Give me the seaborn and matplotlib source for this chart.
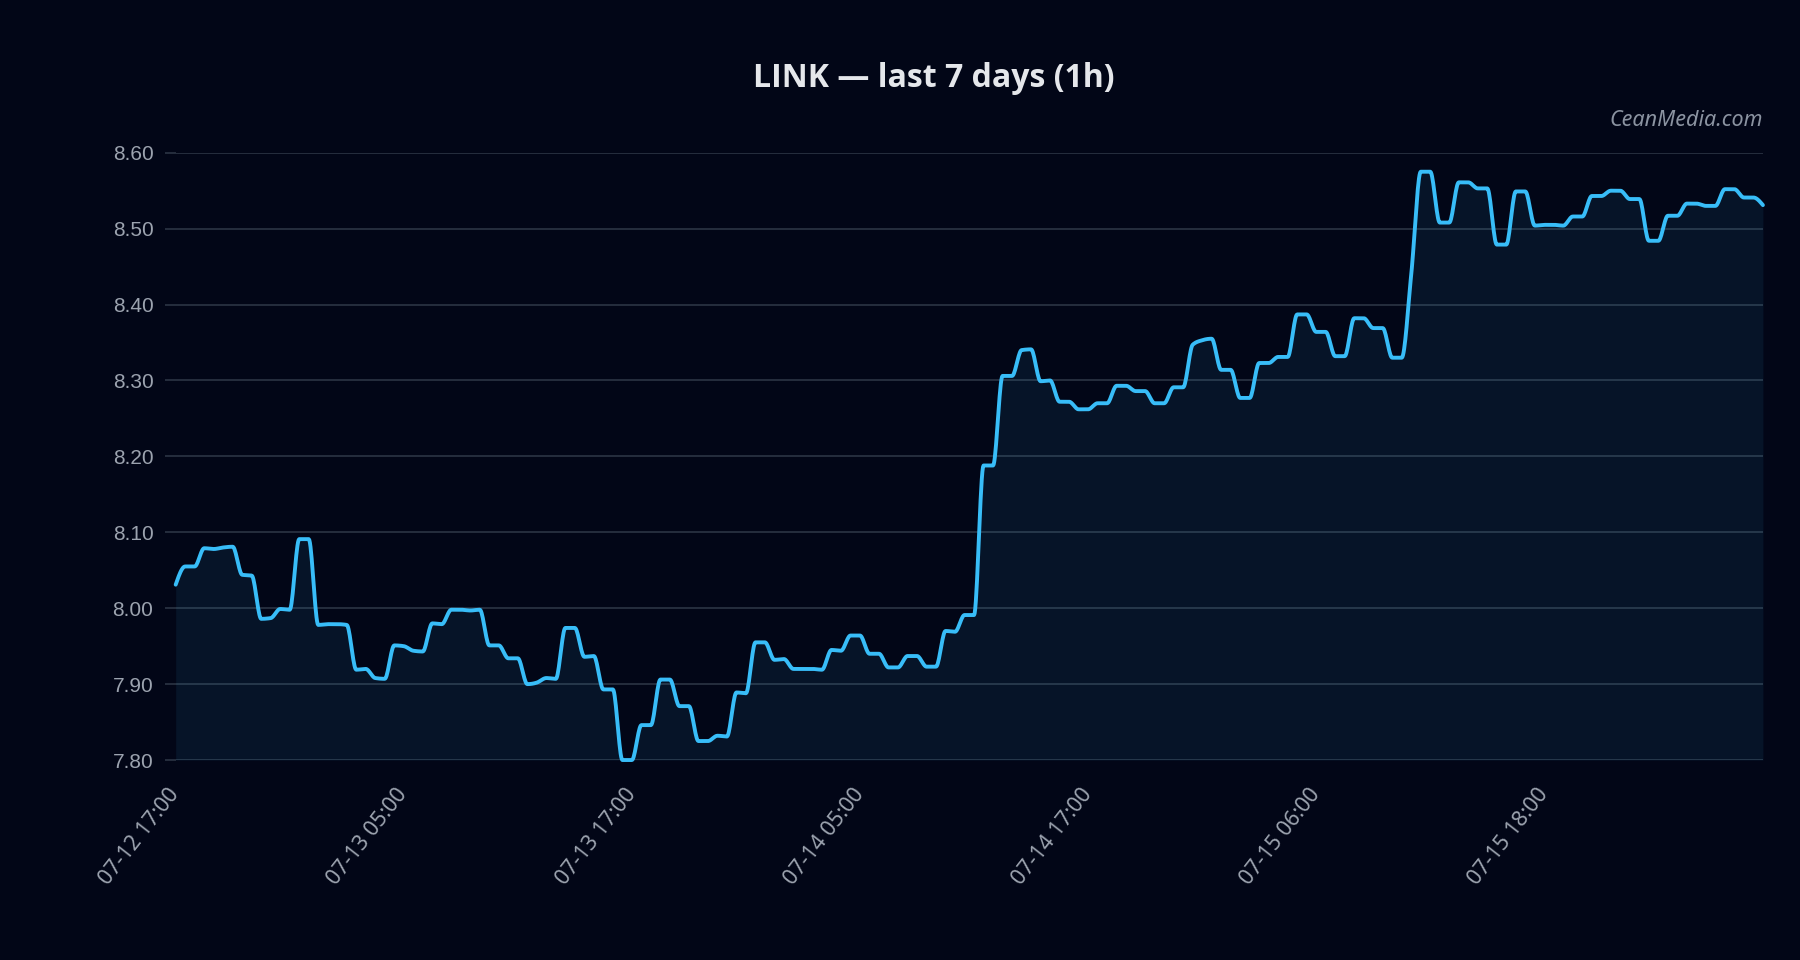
import numpy as np
import pandas as pd
import seaborn as sns
import matplotlib.pyplot as plt

# LINK price, one reading per half-hour slot (168 slots)
price = [
    8.031, 8.055, 8.055, 8.079, 8.078, 8.080, 8.081, 8.044, 8.043, 7.986,
    7.987, 7.999, 7.998, 8.091, 8.091, 7.978, 7.979, 7.979, 7.978, 7.919,
    7.920, 7.908, 7.907, 7.951, 7.950, 7.944, 7.943, 7.980, 7.979, 7.998,
    7.998, 7.997, 7.998, 7.951, 7.951, 7.934, 7.934, 7.900, 7.902, 7.908,
    7.907, 7.974, 7.974, 7.936, 7.937, 7.893, 7.893, 7.800, 7.800, 7.846,
    7.846, 7.906, 7.906, 7.871, 7.871, 7.825, 7.825, 7.832, 7.831, 7.889,
    7.888, 7.955, 7.955, 7.932, 7.933, 7.920, 7.920, 7.920, 7.919, 7.945,
    7.944, 7.964, 7.964, 7.940, 7.940, 7.922, 7.922, 7.937, 7.937, 7.923,
    7.923, 7.970, 7.969, 7.991, 7.991, 8.188, 8.188, 8.306, 8.306, 8.340,
    8.341, 8.299, 8.300, 8.272, 8.272, 8.262, 8.262, 8.270, 8.270, 8.293,
    8.293, 8.286, 8.286, 8.270, 8.270, 8.291, 8.291, 8.347, 8.353, 8.355,
    8.314, 8.314, 8.277, 8.277, 8.323, 8.323, 8.331, 8.331, 8.387, 8.387,
    8.364, 8.364, 8.332, 8.332, 8.382, 8.382, 8.369, 8.369, 8.330, 8.330,
    8.440, 8.575, 8.575, 8.508, 8.508, 8.561, 8.561, 8.553, 8.553, 8.479,
    8.479, 8.549, 8.549, 8.504, 8.505, 8.505, 8.504, 8.516, 8.516, 8.543,
    8.543, 8.550, 8.550, 8.539, 8.539, 8.484, 8.484, 8.517, 8.517, 8.533,
    8.533, 8.530, 8.530, 8.552, 8.552, 8.541, 8.541, 8.531,
]
tick_labels = ["07-12 17:00", "07-13 05:00", "07-13 17:00", "07-14 05:00",
               "07-14 17:00", "07-15 06:00", "07-15 18:00"]
tick_every = 24
y_ticks = [7.80, 7.90, 8.00, 8.10, 8.20, 8.30, 8.40, 8.50, 8.60]

BG = "#020617"
LINE = "#38bdf8"
GRID = "#2b3444"
TXT = "#9ca3af"


def monotone_curve(y, steps=16):
    # monotone cubic (same shape the web chart draws between points)
    y = np.asarray(y, dtype=float)
    x = np.arange(len(y), dtype=float)
    d = np.diff(y)
    m = np.zeros_like(y)
    for i in range(1, len(y) - 1):
        s0, s1 = d[i - 1], d[i]
        p = (s0 + s1) / 2
        m[i] = (np.sign(s0) + np.sign(s1)) * min(abs(s0), abs(s1), 0.5 * abs(p))
    m[0] = (3 * d[0] - m[1]) / 2
    m[-1] = (3 * d[-1] - m[-2]) / 2
    xs, ys = [], []
    t = np.linspace(0, 1, steps, endpoint=False)
    for i in range(len(y) - 1):
        h00 = 2 * t**3 - 3 * t**2 + 1
        h10 = t**3 - 2 * t**2 + t
        h01 = -2 * t**3 + 3 * t**2
        h11 = t**3 - t**2
        xs.append(x[i] + t)
        ys.append(h00 * y[i] + h10 * m[i] + h01 * y[i + 1] + h11 * m[i + 1])
    xs.append([x[-1]])
    ys.append([y[-1]])
    return np.concatenate(xs), np.concatenate(ys)


sns.set_theme(style="dark")
plt.rcParams["font.family"] = ["Liberation Sans", "DejaVu Sans"]

fig = plt.figure(figsize=(18, 9.6), dpi=100, facecolor=BG)
ax = fig.add_axes([0.0976, 0.2083, 0.8818, 0.6326])
ax.set_facecolor(BG)

xs, ys = monotone_curve(price)
curve = pd.DataFrame({"slot": xs, "price": ys})
ax.fill_between(curve["slot"], curve["price"], y_ticks[0], color=LINE, alpha=0.08, lw=0)
sns.lineplot(data=curve, x="slot", y="price", ax=ax, color=LINE, linewidth=2.8,
             sort=False, estimator=None, clip_on=False, zorder=3)

ax.set_xlim(0, len(price) - 1)
ax.set_ylim(y_ticks[0], y_ticks[-1])
ax.set_yticks(y_ticks, [f"{v:.2f}" for v in y_ticks])
ax.set_xticks(range(0, len(price), tick_every), tick_labels,
              rotation=52, ha="right", va="center", rotation_mode="anchor")
for lab in ax.get_xticklabels():
    lab.set_family(["Noto Sans", "DejaVu Sans"])

ax.yaxis.grid(True, color=GRID, linewidth=1.2)
ax.xaxis.grid(False)
sns.despine(ax=ax, left=True, bottom=True)
ax.tick_params(axis="y", length=8, width=1.2, color=GRID, pad=8,
               labelcolor=TXT, labelsize=15, left=True)
ax.tick_params(axis="x", length=0, pad=22, labelcolor=TXT, labelsize=15.5)
ax.set_xlabel("")
ax.set_ylabel("")

fig.text(0.519, 0.918, "LINK — last 7 days (1h)", ha="center", va="center",
         fontsize=23, fontweight="bold", color="#e5e7eb",
         family=["Open Sans", "DejaVu Sans"])
fig.text(0.9794, 0.874, "CeanMedia.com", ha="right", va="center",
         fontsize=15.5, style="italic", color="#8b93a1",
         family=["Noto Sans", "DejaVu Sans"])

fig.savefig("out.png", dpi=100, facecolor=BG)
